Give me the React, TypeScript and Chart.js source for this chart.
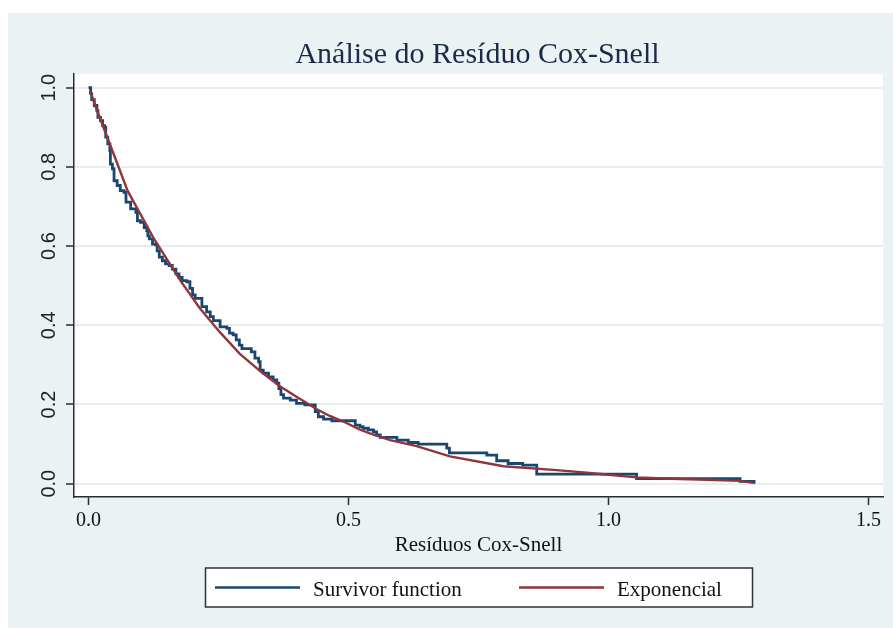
import React, { useEffect, useRef } from 'react';
import { Chart, registerables } from 'chart.js';

Chart.register(...registerables);

const TITLE = 'Análise do Resíduo Cox-Snell';
const X_TITLE = 'Resíduos Cox-Snell';
const LEGEND_LABELS = ['Survivor function', 'Exponencial'];
const X_TICKS = [0, 0.5, 1.0, 1.5];
const Y_TICKS = [0, 0.2, 0.4, 0.6, 0.8, 1.0];

// Kaplan-Meier survivor function of the Cox-Snell residuals (step points)
const survivorX = [
  0.000, 0.004, 0.006, 0.011, 0.016, 0.018, 0.023, 0.027, 0.031, 0.033,
  0.037, 0.041, 0.042, 0.046, 0.049, 0.055, 0.061, 0.068, 0.072, 0.081,
  0.091, 0.094, 0.100, 0.107, 0.112, 0.114, 0.117, 0.123, 0.129, 0.132,
  0.136, 0.142, 0.148, 0.155, 0.161, 0.168, 0.174, 0.180, 0.189, 0.195,
  0.200, 0.205, 0.218, 0.227, 0.234, 0.240, 0.253, 0.266, 0.271, 0.278,
  0.284, 0.290, 0.295, 0.313, 0.320, 0.327, 0.330, 0.336, 0.346, 0.355,
  0.362, 0.366, 0.370, 0.375, 0.388, 0.400, 0.416, 0.436, 0.442, 0.452,
  0.468, 0.513, 0.522, 0.528, 0.538, 0.548, 0.554, 0.561, 0.593, 0.615,
  0.634, 0.689, 0.694, 0.766, 0.785, 0.807, 0.835, 0.862, 1.054, 1.253,
  1.280,
];
const survivorY = [
  1.000, 0.985, 0.970, 0.955, 0.942, 0.925, 0.917, 0.904, 0.900, 0.875,
  0.858, 0.841, 0.807, 0.795, 0.765, 0.753, 0.740, 0.736, 0.711, 0.694,
  0.685, 0.664, 0.660, 0.647, 0.639, 0.626, 0.618, 0.605, 0.603, 0.588,
  0.572, 0.563, 0.555, 0.551, 0.542, 0.530, 0.521, 0.513, 0.510, 0.493,
  0.477, 0.468, 0.447, 0.434, 0.422, 0.412, 0.396, 0.392, 0.380, 0.376,
  0.363, 0.350, 0.341, 0.333, 0.317, 0.308, 0.287, 0.279, 0.270, 0.262,
  0.254, 0.240, 0.225, 0.216, 0.211, 0.203, 0.199, 0.182, 0.169, 0.163,
  0.159, 0.148, 0.144, 0.140, 0.136, 0.131, 0.123, 0.117, 0.110, 0.104,
  0.100, 0.090, 0.078, 0.072, 0.058, 0.051, 0.047, 0.024, 0.013, 0.006,
  0.000,
];

// Exponential fit curve
const expoX = [
  0.003, 0.017, 0.049, 0.075, 0.126, 0.176, 0.214, 0.253, 0.291, 0.333,
  0.368, 0.403, 0.439, 0.464, 0.490, 0.520, 0.541, 0.580, 0.631, 0.695,
  0.798, 0.894, 0.958, 0.990, 1.054, 1.121, 1.189, 1.253, 1.278,
];
const expoY = [
  0.992, 0.940, 0.830, 0.740, 0.618, 0.514, 0.443, 0.382, 0.328, 0.281,
  0.246, 0.217, 0.188, 0.171, 0.157, 0.138, 0.127, 0.110, 0.095, 0.069,
  0.044, 0.035, 0.028, 0.024, 0.016, 0.0126, 0.010, 0.007, 0.002,
];

const BLUE = '#1a476f';
const RED = '#90353b';
const PANEL = '#eaf2f3';

const decor = {
  id: 'decor',
  beforeDraw(chart: any) {
    const { ctx, chartArea: a, width, height } = chart;
    ctx.save();
    ctx.fillStyle = PANEL;
    ctx.fillRect(0, 0, width, height);
    ctx.fillStyle = '#ffffff';
    ctx.fillRect(a.left, a.top, a.right - a.left, a.bottom - a.top);
    ctx.restore();
  },
  afterDraw(chart: any) {
    const { ctx, chartArea: a } = chart;
    const ys = chart.scales.y;
    const cx = (a.left + a.right) / 2;
    ctx.save();
    // title
    ctx.fillStyle = '#1c2a4a';
    ctx.font = '30px "Liberation Serif"';
    ctx.textAlign = 'center';
    ctx.textBaseline = 'alphabetic';
    ctx.fillText(TITLE, cx - 1, 50);
    // y tick labels (rotated)
    ctx.fillStyle = '#222';
    ctx.font = '20px "Liberation Sans"';
    for (const v of Y_TICKS) {
      const y = ys.getPixelForValue(v);
      ctx.save();
      ctx.translate(47, y);
      ctx.rotate(-Math.PI / 2);
      ctx.textAlign = 'center';
      ctx.textBaseline = 'alphabetic';
      ctx.fillText(v.toFixed(1), 0, 0);
      ctx.restore();
    }
    // x axis title
    ctx.fillStyle = '#111';
    ctx.font = '21px "Liberation Serif"';
    ctx.textAlign = 'center';
    ctx.fillText(X_TITLE, cx, 538);
    // legend box
    ctx.fillStyle = '#ffffff';
    ctx.fillRect(197.5, 555, 547, 39);
    ctx.strokeStyle = '#333';
    ctx.lineWidth = 1.5;
    ctx.strokeRect(197.5, 555, 547, 39);
    const ly = 574.5;
    ctx.lineWidth = 2.6;
    ctx.strokeStyle = BLUE;
    ctx.beginPath();
    ctx.moveTo(207, ly);
    ctx.lineTo(292, ly);
    ctx.stroke();
    ctx.lineWidth = 2.4;
    ctx.strokeStyle = RED;
    ctx.beginPath();
    ctx.moveTo(511, ly);
    ctx.lineTo(596, ly);
    ctx.stroke();
    ctx.fillStyle = '#111';
    ctx.textAlign = 'left';
    ctx.font = '21px "Liberation Serif"';
    ctx.fillText(LEGEND_LABELS[0], 305, 583);
    ctx.fillText(LEGEND_LABELS[1], 609, 583);
    ctx.restore();
  },
};

export default function App() {
  const ref = useRef<HTMLCanvasElement | null>(null);
  useEffect(() => {
    if (!ref.current) return;
    const chart = new Chart(ref.current, {
      type: 'line',
      data: {
        datasets: [
          {
            label: LEGEND_LABELS[0],
            data: survivorX.map((x, i) => ({ x, y: survivorY[i] })),
            borderColor: BLUE,
            borderWidth: 2.8,
            stepped: 'before',
            pointRadius: 0,
            fill: false,
            order: 2,
          },
          {
            label: LEGEND_LABELS[1],
            data: expoX.map((x, i) => ({ x, y: expoY[i] })),
            borderColor: RED,
            borderWidth: 2.4,
            tension: 0,
            pointRadius: 0,
            fill: false,
            order: 1,
          },
        ],
      },
      options: {
        responsive: false,
        animation: false,
        devicePixelRatio: 1,
        layout: { padding: { top: 61, right: 10, left: 0, bottom: 0 } },
        plugins: {
          legend: { display: false },
          title: { display: false },
          tooltip: { enabled: false },
        },
        scales: {
          x: {
            type: 'linear',
            min: -0.028,
            max: 1.528,
            afterBuildTicks: (s: any) => {
              s.ticks = X_TICKS.map((v) => ({ value: v }));
            },
            afterFit: (s: any) => {
              s.height = 131;
            },
            ticks: {
              callback: (v: any) => Number(v).toFixed(1),
              font: { family: 'Liberation Serif', size: 20 },
              color: '#111',
              padding: 4,
              maxRotation: 0,
              autoSkip: false,
            },
            grid: {
              drawOnChartArea: false,
              drawTicks: true,
              tickLength: 8,
              tickColor: '#2b2b2b',
              tickWidth: 1.5,
            },
            border: { display: true, color: '#2b2b2b', width: 1.5 },
          },
          y: {
            type: 'linear',
            min: -0.0336,
            max: 1.0346,
            afterBuildTicks: (s: any) => {
              s.ticks = Y_TICKS.map((v) => ({ value: v }));
            },
            afterFit: (s: any) => {
              s.width = 66;
            },
            ticks: { display: false },
            grid: {
              color: '#e6eef0',
              lineWidth: 2,
              drawTicks: true,
              tickLength: 8,
              tickColor: '#2b2b2b',
              tickWidth: 1.5,
            },
            border: { display: true, color: '#2b2b2b', width: 1.5 },
          },
        },
      } as any,
      plugins: [decor],
    });
    return () => chart.destroy();
  }, []);
  return (
    <div style={{ position: 'fixed', left: 8, top: 13, width: 885, height: 615 }}>
      <canvas ref={ref} width={885} height={615} style={{ display: 'block', width: 885, height: 615 }} />
    </div>
  );
}
